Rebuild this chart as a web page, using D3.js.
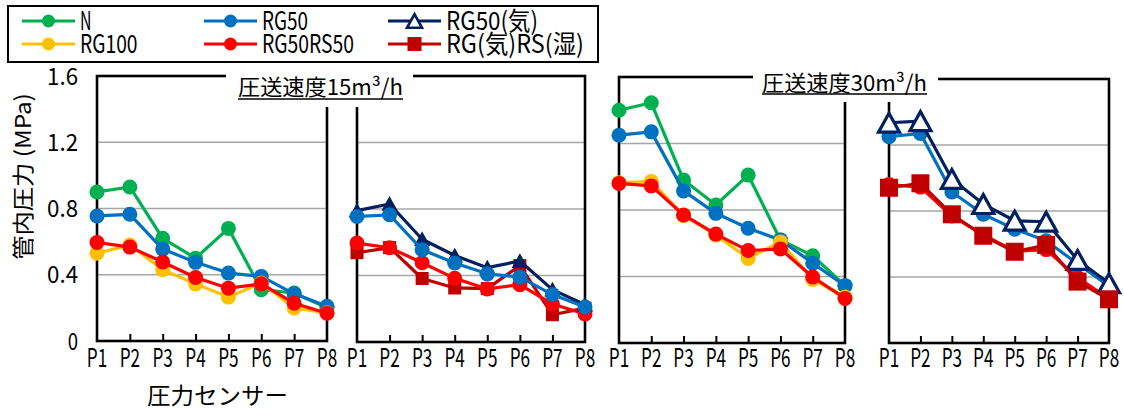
<!DOCTYPE html>
<html>
<head>
<meta charset="utf-8">
<script src="https://cdn.jsdelivr.net/npm/d3@7"></script>
<style>
  body { margin: 0; background: #fff; }
  svg { display: block; }
  text { font-family: "Noto Sans CJK JP", "Noto Sans", sans-serif; fill: #000; }
</style>
</head>
<body>
<svg id="chart" width="1124" height="410"></svg>
<script>
// ---- data ----
const sensors = ["P1", "P2", "P3", "P4", "P5", "P6", "P7", "P8"];
const yTickValues = [0, 0.4, 0.8, 1.2, 1.6];
const yTickLabels = ["0", "0.4", "0.8", "1.2", "1.6"];
const seriesNames = ["N", "RG50", "RG50(気)", "RG100", "RG50RS50", "RG(気)RS(湿)"];
const panelTitles = ["圧送速度15m³/h", "圧送速度30m³/h"];
const yAxisTitle = "管内圧力 (MPa)";
const xAxisTitle = "圧力センサー";

// pipe pressure (MPa), feed rate 15 m³/h
const n15        = [0.90, 0.93, 0.62, 0.50, 0.68, 0.31, 0.29, 0.20];
const rg50_15    = [0.755, 0.765, 0.555, 0.475, 0.41, 0.39, 0.285, 0.21];
const rg100_15   = [0.53, 0.58, 0.43, 0.345, 0.265, 0.35, 0.20, 0.17];
const rg50rs50_15 = [0.595, 0.567, 0.477, 0.383, 0.319, 0.345, 0.228, 0.168];
const rg50k_15   = [0.79, 0.83, 0.618, 0.52, 0.447, 0.487, 0.315, 0.224];
const rgkrs_15   = [0.537, 0.568, 0.382, 0.325, 0.321, 0.46, 0.164, 0.204];

// pipe pressure (MPa), feed rate 30 m³/h
const n30        = [1.40, 1.445, 0.98, 0.83, 1.01, 0.62, 0.525, 0.345];
const rg50_30    = [1.25, 1.27, 0.915, 0.78, 0.69, 0.62, 0.48, 0.345];
const rg100_30   = [0.964, 0.972, 0.766, 0.65, 0.509, 0.608, 0.382, 0.277];
const rg50rs50_30 = [0.96, 0.945, 0.77, 0.655, 0.556, 0.566, 0.397, 0.268];
const rg50k_30   = [1.335, 1.345, 0.994, 0.842, 0.741, 0.735, 0.503, 0.362];
const rgkrs_30   = [0.941, 0.968, 0.78, 0.65, 0.553, 0.594, 0.372, 0.265];

// ---- styles ----
const colors = {
  "N": "#00B050", "RG50": "#0070C0", "RG50(気)": "#002060",
  "RG100": "#FFC000", "RG50RS50": "#FF0000", "RG(気)RS(湿)": "#C00000"
};
const markers = {
  "N": "circle", "RG50": "circle", "RG50(気)": "triangle",
  "RG100": "circle", "RG50RS50": "circle", "RG(気)RS(湿)": "square"
};

// panel layout and which series go in which (listed in drawing order)
const panels = [
  { x0: 97,  x1: 327,  yTop: 76, yBot: 341,
    series: [["N", n15], ["RG50", rg50_15], ["RG100", rg100_15], ["RG50RS50", rg50rs50_15]],
    small: true },
  { x0: 357, x1: 585,  yTop: 76, yBot: 342,
    series: [["RG(気)RS(湿)", rgkrs_15], ["RG50RS50", rg50rs50_15], ["RG50(気)", rg50k_15], ["RG50", rg50_15]],
    small: true },
  { x0: 619, x1: 845,  yTop: 77, yBot: 343,
    series: [["N", n30], ["RG50", rg50_30], ["RG100", rg100_30], ["RG50RS50", rg50rs50_30]],
    small: false },
  { x0: 889, x1: 1109, yTop: 79, yBot: 343,
    series: [["RG50", rg50_30], ["RG50RS50", rg50rs50_30], ["RG50(気)", rg50k_30], ["RG(気)RS(湿)", rgkrs_30]],
    small: false }
];

// text widths follow a half-width / full-width grid
function halfUnits(str) {
  let u = 0;
  for (const ch of str) {
    const c = ch.codePointAt(0);
    u += (c < 0x100 && c !== 0xB3) ? 1 : 2;
  }
  return u;
}
function addText(g, str, x, y, size, unit, anchor) {
  return g.append("text")
    .attr("x", x).attr("y", y)
    .attr("font-size", size)
    .attr("text-anchor", anchor || "start")
    .attr("textLength", halfUnits(str) * unit)
    .attr("lengthAdjust", "spacingAndGlyphs")
    .text(str);
}

function drawMarker(g, type, cx, cy, color, opts) {
  if (type === "circle") {
    g.append("circle").attr("cx", cx).attr("cy", cy).attr("r", opts.r).attr("fill", color);
  } else if (type === "square") {
    const s = opts.sq;
    g.append("rect").attr("x", cx - s / 2).attr("y", cy - s / 2)
      .attr("width", s).attr("height", s).attr("fill", color);
  } else if (type === "triangle") {
    const s = opts.tri, h = s * 0.9;
    const p = d3.path();
    p.moveTo(cx, cy - h / 2); p.lineTo(cx + s / 2, cy + h / 2); p.lineTo(cx - s / 2, cy + h / 2); p.closePath();
    g.append("path").attr("d", p.toString())
      .attr("fill", opts.triFill ? color : "#fff")
      .attr("stroke", color).attr("stroke-width", opts.triStroke)
      .attr("stroke-linejoin", "miter");
  }
}

const svg = d3.select("#chart");
svg.append("rect").attr("width", 1124).attr("height", 410).attr("fill", "#fff");

// ---- panels ----
panels.forEach((pn, i) => {
  const g = svg.append("g");
  const x = d3.scalePoint().domain(sensors).range([pn.x0, pn.x1]).padding(0);
  const y = d3.scaleLinear().domain([0, 1.6]).range([pn.yBot, pn.yTop]);

  // gridlines
  g.selectAll(".grid").data(yTickValues.filter(v => v > 0 && v < 1.6)).join("line")
    .attr("x1", pn.x0).attr("x2", pn.x1)
    .attr("y1", d => y(d)).attr("y2", d => y(d))
    .attr("stroke", "#A6A6A6").attr("stroke-width", 1.6);

  // frame
  g.append("rect").attr("x", pn.x0).attr("y", y(1.6))
    .attr("width", pn.x1 - pn.x0).attr("height", y(0) - y(1.6))
    .attr("fill", "none").attr("stroke", "#000").attr("stroke-width", 2.6);

  // x axis ticks pointing into the plot, and labels
  const xAxis = d3.axisBottom(x).tickSize(0).tickPadding(0);
  const ax = g.append("g").attr("transform", `translate(0,${y(0)})`).call(xAxis);
  ax.select(".domain").remove();
  ax.selectAll(".tick text").remove();
  ax.selectAll(".tick").filter((d, j) => j > 0 && j < sensors.length - 1)
    .append("line").attr("y1", 0).attr("y2", -7).attr("stroke", "#000").attr("stroke-width", 2);
  sensors.forEach(s => addText(g, s, x(s), 367, 25, 10.2, "middle"));

  // y tick labels on the first panel only
  if (i === 0) {
    yTickValues.forEach((v, k) => addText(g, yTickLabels[k], 78, y(v) + 8.5, 24, 10.3, "end"));
  }

  // series
  const line = d3.line().x((d, j) => x(sensors[j])).y(d => y(d));
  const mopts = pn.small
    ? { r: 7.5, sq: 13, tri: 13, triFill: true, triStroke: 2 }
    : { r: 7.5, sq: 18, tri: 21, triFill: false, triStroke: 3.2 };
  pn.series.forEach(([name, vals]) => {
    const sg = g.append("g");
    sg.append("path").attr("d", line(vals)).attr("fill", "none")
      .attr("stroke", colors[name]).attr("stroke-width", 3.2).attr("stroke-linejoin", "round");
    vals.forEach((v, j) => drawMarker(sg, markers[name], x(sensors[j]), y(v), colors[name], mopts));
  });
});

// ---- panel titles (white boxes break the frames) ----
const titleBoxes = [
  { x: 226, w: 187, y: 66, h: 41, tx: 238, ty: 95, uy: 99 },
  { x: 753, w: 185, y: 66, h: 36, tx: 762, ty: 91, uy: 94 }
];
titleBoxes.forEach((b, i) => {
  svg.append("rect").attr("x", b.x).attr("y", b.y).attr("width", b.w).attr("height", b.h).attr("fill", "#fff");
  const t = addText(svg, panelTitles[i], b.tx, b.ty, 22, 11, "start");
  const w = +t.attr("textLength");
  svg.append("line").attr("x1", b.tx).attr("x2", b.tx + w).attr("y1", b.uy).attr("y2", b.uy)
    .attr("stroke", "#000").attr("stroke-width", 1.6);
});

// ---- axis titles ----
addText(svg, xAxisTitle, 217.5, 404, 23, 11.75, "middle");
addText(svg, yAxisTitle, 0, 0, 22, 11.9, "middle")
  .attr("transform", "translate(31,176.5) rotate(-90)");

// ---- legend ----
const lg = svg.append("g");
lg.append("rect").attr("x", 8).attr("y", 6).attr("width", 590).attr("height", 56)
  .attr("fill", "#fff").attr("stroke", "#000").attr("stroke-width", 2);
const legendCols = [22, 204, 388];
const legendRows = [21, 44];
const legendOrder = [["N", 0, 0], ["RG50", 1, 0], ["RG50(気)", 2, 0],
                     ["RG100", 0, 1], ["RG50RS50", 1, 1], ["RG(気)RS(湿)", 2, 1]];
legendOrder.forEach(([name, c, r]) => {
  const lx = legendCols[c], ly = legendRows[r];
  lg.append("line").attr("x1", lx).attr("x2", lx + 53).attr("y1", ly).attr("y2", ly)
    .attr("stroke", colors[name]).attr("stroke-width", 3.2);
  drawMarker(lg, markers[name], lx + 26.5, ly, colors[name],
    { r: 6.5, sq: 14, tri: 15, triFill: false, triStroke: 2.6 });
  addText(lg, name, lx + 58, ly + 9, 25, 11.5, "start");
});
</script>
</body>
</html>
